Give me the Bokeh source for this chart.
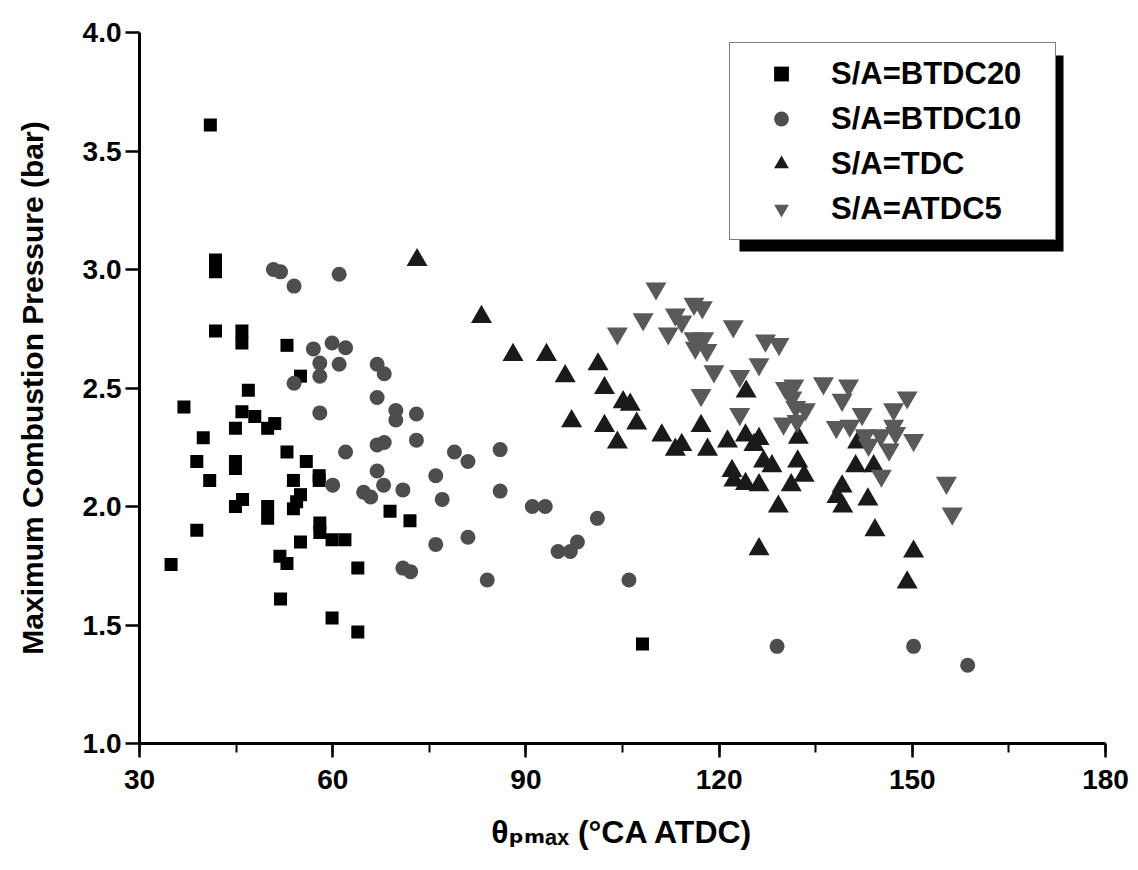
from bokeh.plotting import figure
from bokeh.models import (Range1d, SingleIntervalTicker, Legend, LegendItem,
                          BoxAnnotation, NumeralTickFormatter)
from bokeh.embed import file_html
from bokeh.resources import INLINE

# ---- data ----
btdc20_x = [41.0, 41.8, 41.8, 41.8, 45.9, 45.9, 52.9, 55.0, 46.9, 36.9, 45.9, 47.9,
            44.9, 49.9, 51.0, 39.9, 52.9, 55.9, 38.9, 44.9, 44.9, 40.9, 53.9, 57.9,
            57.9, 55.0, 44.9, 46.0, 49.9, 49.9, 53.9, 54.4, 58.0, 58.0, 59.9, 61.9,
            38.9, 55.0, 34.9, 51.8, 52.9, 63.9, 51.9, 59.9, 63.9, 108.1, 68.9, 72.0]
btdc20_y = [3.61, 3.04, 2.99, 2.74, 2.74, 2.69, 2.68, 2.55, 2.49, 2.42, 2.40, 2.38,
            2.33, 2.33, 2.35, 2.29, 2.23, 2.19, 2.19, 2.19, 2.16, 2.11, 2.11, 2.13,
            2.11, 2.05, 2.00, 2.03, 2.00, 1.95, 1.99, 2.02, 1.93, 1.89, 1.86, 1.86,
            1.90, 1.85, 1.755, 1.79, 1.76, 1.74, 1.61, 1.53, 1.47, 1.42, 1.98, 1.94]

btdc10_x = [50.8, 51.9, 54.0, 61.0, 57.0, 59.9, 62.0, 58.0, 58.0, 61.0, 54.0, 66.9,
            68.0, 66.9, 69.8, 69.8, 73.0, 58.0, 66.9, 68.0, 73.0, 62.0, 66.9, 78.9,
            81.0, 86.0, 60.0, 67.9, 64.8, 65.9, 70.9, 76.0, 77.0, 86.0, 91.0, 93.0,
            101.1, 76.0, 81.0, 70.9, 72.1, 84.0, 95.0, 96.9, 98.0, 106.0, 129.0, 150.2,
            158.6]
btdc10_y = [3.00, 2.99, 2.93, 2.98, 2.665, 2.69, 2.67, 2.605, 2.55, 2.60, 2.52, 2.60,
            2.56, 2.46, 2.405, 2.365, 2.39, 2.395, 2.26, 2.27, 2.28, 2.23, 2.15, 2.23,
            2.19, 2.24, 2.09, 2.09, 2.06, 2.04, 2.07, 2.13, 2.03, 2.065, 2.00, 2.00,
            1.95, 1.84, 1.87, 1.74, 1.725, 1.69, 1.81, 1.81, 1.85, 1.69, 1.41, 1.41,
            1.33]

tdc_x = [73.1, 83.1, 88.0, 93.2, 96.1, 101.2, 102.2, 105.1, 106.2, 97.1, 102.2, 107.2,
         104.2, 111.1, 113.2, 114.2, 117.2, 118.2, 121.3, 124.2, 124.1, 126.2, 125.4,
         126.9, 128.2, 122.0, 122.3, 124.1, 126.2, 129.2, 131.2, 132.2, 133.2, 132.3,
         139.1, 138.3, 139.2, 141.2, 144.0, 141.5, 143.1, 144.2, 126.2, 150.2, 149.2]
tdc_y = [3.04, 2.80, 2.64, 2.64, 2.55, 2.60, 2.50, 2.44, 2.43, 2.36, 2.34, 2.35,
         2.27, 2.30, 2.24, 2.26, 2.34, 2.24, 2.275, 2.485, 2.30, 2.285, 2.26,
         2.19, 2.17, 2.15, 2.11, 2.095, 2.09, 2.00, 2.09, 2.19, 2.13, 2.29,
         2.085, 2.04, 2.00, 2.17, 2.17, 2.27, 2.03, 1.90, 1.82, 1.81, 1.68]

atdc5_x = [110.2, 108.2, 104.2, 113.2, 114.2, 116.1, 117.4, 112.1, 116.1, 117.6, 116.3,
           118.1, 119.2, 122.2, 127.2, 129.3, 126.2, 123.2, 117.2, 123.2, 130.3, 131.6,
           136.2, 140.1, 139.1, 131.9, 133.4, 130.0, 132.1, 138.2, 140.3, 142.2, 142.7,
           145.1, 147.1, 147.4, 150.2, 143.2, 146.4, 145.2, 147.1, 149.2, 155.3, 156.2,
           131.3]
atdc5_y = [2.92, 2.79, 2.73, 2.81, 2.78, 2.855, 2.84, 2.73, 2.71, 2.71, 2.67,
           2.66, 2.57, 2.76, 2.70, 2.685, 2.60, 2.55, 2.47, 2.39, 2.50, 2.51,
           2.52, 2.51, 2.45, 2.42, 2.41, 2.35, 2.36, 2.335, 2.34, 2.39, 2.30,
           2.30, 2.34, 2.31, 2.28, 2.26, 2.24, 2.13, 2.41, 2.46, 2.10, 1.97,
           2.46]

series_labels = ["S/A=BTDC20", "S/A=BTDC10", "S/A=TDC", "S/A=ATDC5"]
x_ticks_interval = 30
y_ticks_interval = 0.5
x_title = "θₚₘₐₓ (°CA ATDC)"
y_title = "Maximum Combustion Pressure (bar)"

FONT = "Liberation Sans, DejaVu Sans, Arial, sans-serif"

p = figure(width=1138, height=870, output_backend="svg", toolbar_location=None,
           x_range=Range1d(30, 180), y_range=Range1d(1.0, 4.0),
           min_border_left=139, min_border_right=33, min_border_top=32,
           min_border_bottom=127)
p.outline_line_color = None
p.grid.visible = False
p.background_fill_color = "white"
p.border_fill_color = "white"

r1 = p.scatter(btdc20_x, btdc20_y, marker="square", size=13,
               fill_color="#000000", line_color="#000000", line_width=0)
r2 = p.scatter(btdc10_x, btdc10_y, marker="circle", size=15,
               fill_color="#4d4d4d", line_color="#4d4d4d", line_width=0)
r3 = p.scatter(tdc_x, tdc_y, marker="triangle", size=21,
               fill_color="#1a1a1a", line_color="#1a1a1a", line_width=0)
r4 = p.scatter(atdc5_x, atdc5_y, marker="inverted_triangle", size=21,
               fill_color="#595959", line_color="#595959", line_width=0)

# axes
xa = p.xaxis[0]
ya = p.yaxis[0]
xa.ticker = SingleIntervalTicker(interval=x_ticks_interval, num_minor_ticks=2)
ya.ticker = SingleIntervalTicker(interval=y_ticks_interval, num_minor_ticks=0)
ya.formatter = NumeralTickFormatter(format="0.0")
for ax in (xa, ya):
    ax.axis_line_width = 3
    ax.axis_line_color = "black"
    ax.major_tick_line_width = 2.5
    ax.major_tick_line_color = "black"
    ax.minor_tick_line_width = 2
    ax.minor_tick_line_color = "black"
    ax.major_tick_in = 0
    ax.minor_tick_in = 0
    ax.major_label_text_font = FONT
    ax.major_label_text_font_style = "bold"
    ax.major_label_text_font_size = "28px"
    ax.major_label_text_color = "black"
    ax.axis_label_text_font = FONT
    ax.axis_label_text_font_style = "bold"
    ax.axis_label_text_color = "black"
xa.major_tick_out = 14
xa.minor_tick_out = 9
ya.major_tick_out = 14
ya.minor_tick_out = 0
xa.major_label_standoff = 12
ya.major_label_standoff = 4
xa.axis_label = x_title
ya.axis_label = y_title
xa.axis_label_text_font_size = "32px"
ya.axis_label_text_font_size = "30px"
xa.axis_label_standoff = 22
ya.axis_label_standoff = 31

# legend placement in frame screen units (x from left, y from bottom)
LX, LTOP, LW, LH = 590, 699, 324, 196
shadow = BoxAnnotation(left=LX + 10, right=LX + LW + 10, top=LTOP - 11,
                       bottom=LTOP - LH - 11,
                       left_units="screen", right_units="screen",
                       top_units="screen", bottom_units="screen",
                       fill_color="black", fill_alpha=1.0, line_color=None)
p.add_layout(shadow)

legend = Legend(items=[LegendItem(label=series_labels[0], renderers=[r1]),
                       LegendItem(label=series_labels[1], renderers=[r2]),
                       LegendItem(label=series_labels[2], renderers=[r3]),
                       LegendItem(label=series_labels[3], renderers=[r4])],
                location=(LX, LTOP - LH), margin=0, padding=12, spacing=8,
                glyph_width=78, glyph_height=37, label_standoff=11,
                label_width=212, label_height=37,
                label_text_font=FONT, label_text_font_style="bold",
                label_text_font_size="31px", label_text_color="black",
                border_line_color="black", border_line_width=1.5,
                background_fill_color="white", background_fill_alpha=1.0)
p.add_layout(legend, "center")

open("out.html", "w").write(file_html(p, INLINE))
